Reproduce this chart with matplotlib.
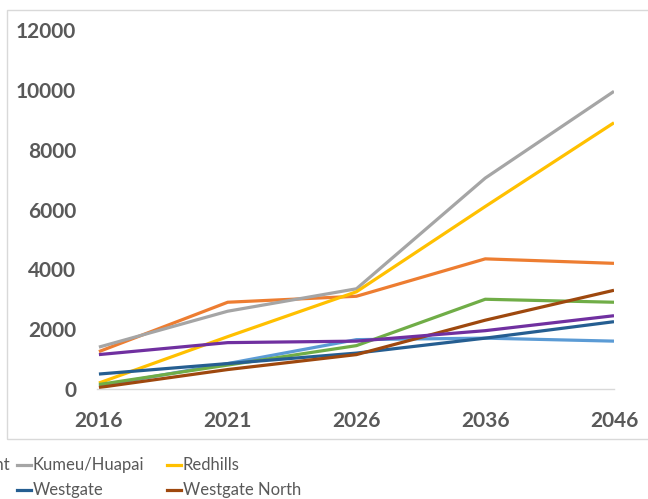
import matplotlib
matplotlib.use("Agg")
import matplotlib.pyplot as plt
from matplotlib.lines import Line2D
from matplotlib.patches import Rectangle

years = ["2016", "2021", "2026", "2036", "2046"]
yticks = [0, 2000, 4000, 6000, 8000, 10000, 12000]

hobsonville = [1250, 2900, 3100, 4350, 4200]
kumeu = [1400, 2600, 3350, 7050, 9950]
redhills = [200, 1750, 3250, 6100, 8900]
whenuapai = [150, 800, 1450, 3000, 2900]
lightblue = [100, 850, 1650, 1700, 1600]
westgate = [500, 850, 1200, 1700, 2250]
westgate_north = [50, 650, 1150, 2300, 3300]
purple = [1150, 1550, 1600, 1950, 2450]

series = [
    ("Scott Point", lightblue, "#5B9BD5"),
    ("Hobsonville Point", hobsonville, "#ED7D31"),
    ("Kumeu/Huapai", kumeu, "#A5A5A5"),
    ("Redhills", redhills, "#FFC000"),
    ("Whenuapai", whenuapai, "#70AD47"),
    ("Westgate", westgate, "#255E91"),
    ("Westgate North", westgate_north, "#9E480E"),
    ("Riverhead", purple, "#7030A0"),
]

W, H = 648, 499
fig = plt.figure(figsize=(W / 100, H / 100), dpi=100)
fig.patch.set_facecolor("white")

# outer box
fig.patches.append(Rectangle((7 / W, 1 - 439 / H), 700 / W, 429 / H,
                             transform=fig.transFigure, fill=False,
                             edgecolor="#D9D9D9", lw=1.0))

ax = fig.add_axes([97 / W, (H - 389) / H, 517 / W, 359 / H])
x = list(range(len(years)))
for name, vals, col in series:
    ax.plot(x, vals, color=col, lw=2.3, solid_capstyle="butt")

ax.set_xlim(-0.015, 4.0)
ax.set_ylim(0, 12000)
ax.set_xticks(x)
ax.set_xticklabels(years)
ax.set_yticks(yticks)
for s in ["top", "right", "left"]:
    ax.spines[s].set_visible(False)
ax.spines["bottom"].set_color("#D9D9D9")
ax.spines["bottom"].set_linewidth(1.0)
ax.tick_params(axis="both", length=0, colors="#595959")
ax.tick_params(axis="y", pad=15)
ax.tick_params(axis="x", pad=16)
for lab in ax.get_xticklabels() + ax.get_yticklabels():
    lab.set_fontfamily("Lato")
    lab.set_fontweight("bold")
    lab.set_fontsize(15)
    lab.set_color("#595959")

# legend (cropped at left edge like the reference)
leg_entries = [
    ("Hobsonville Point", "#ED7D31", -133, 465),
    ("Kumeu/Huapai", "#A5A5A5", 17, 465),
    ("Redhills", "#FFC000", 167, 465),
    ("Whenuapai", "#70AD47", -133, 490),
    ("Westgate", "#255E91", 17, 490),
    ("Westgate North", "#9E480E", 167, 490),
]
for label, col, lx, ly in leg_entries:
    fig.add_artist(Line2D([lx / W, (lx + 14) / W], [1 - ly / H, 1 - ly / H],
                          transform=fig.transFigure, color=col, lw=2.3))
    if label == "Hobsonville Point":
        fig.text(10 / W, 1 - ly / H, label, ha="right", va="center",
                 fontsize=12, fontfamily="Lato", color="#595959")
    else:
        fig.text((lx + 16) / W, 1 - ly / H, label, ha="left", va="center",
                 fontsize=12, fontfamily="Lato", color="#595959")

fig.savefig("out.png", dpi=100)
